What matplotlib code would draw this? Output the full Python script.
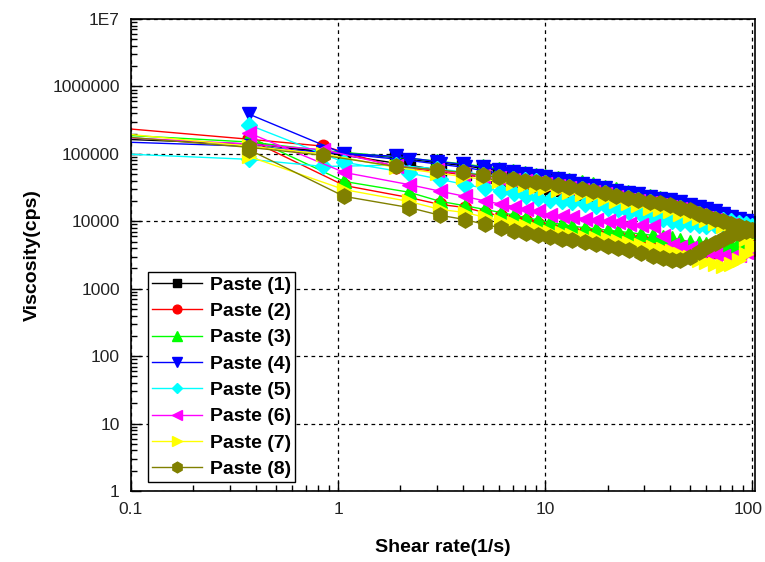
import matplotlib
matplotlib.use("Agg")
import matplotlib.pyplot as plt
import matplotlib.transforms as mtransforms
from matplotlib.ticker import LogLocator, NullFormatter

plt.rcParams['font.family'] = ['Liberation Sans', 'DejaVu Sans']

# shear rates (1/s): low-rate start, ramp up, ramp down, last point
x_start = [0.09, 0.37, 0.85]
x_up = [1.9, 3, 4, 5, 6, 7, 8, 9, 10, 11.5, 13, 15, 17, 19.5, 22, 25, 28, 32,
        36, 40, 45, 50, 55, 60, 66, 72, 79, 86, 93, 100]
x_down = [100, 93, 86, 79, 72, 66, 60, 55, 50, 45, 41, 37, 33, 29, 25.5, 22.5,
          20, 17.5, 15.5, 13.5, 12, 10.5, 9.2, 8.1, 7.1, 6.1, 5.1, 4.1, 3.1, 2.2, 1.07]
x_end = [0.37]

labels = ["Paste (1)", "Paste (2)", "Paste (3)", "Paste (4)",
          "Paste (5)", "Paste (6)", "Paste (7)", "Paste (8)"]

# viscosity (cps)
p1_start = [165000, 140000, 110000]
p1_up = [88000, 74000, 67000, 61000, 56000, 52000, 48500, 46000, 43500, 40500, 38000,
         35000, 32500, 30000, 27500, 25500, 24000, 22000, 20500, 19500, 18000, 16700,
         15500, 14500, 13300, 12200, 11000, 10200, 9500, 9000]
p1_down = [8500, 8800, 9200, 9800, 10500, 11200, 12000, 12800, 13500, 14500, 15300,
           16200, 17200, 18500, 19800, 21000, 22500, 24000, 25500, 27500, 29000, 31000,
           33000, 35500, 38000, 41000, 45000, 50000, 57000, 68000, 95000]
p1_end = [150000]

p2_start = [240000, 165000, 130000]
p2_up = [64000, 55000, 49000, 45000, 42000, 39500, 37500, 35500, 34000, 31500, 29500,
         27500, 26000, 24000, 22000, 20000, 19000, 17500, 16500, 15500, 14200, 13000,
         11800, 10800, 9800, 9000, 8200, 7500, 7000, 6500]
p2_down = [3800, 3600, 3500, 3400, 3400, 3500, 3600, 3800, 4000, 4200, 4500, 4800,
           5100, 5400, 5700, 6000, 6300, 6600, 6900, 7300, 7700, 8100, 9000, 10000,
           11000, 12000, 13500, 16000, 17800, 22500, 34000]
p2_end = [165000]

p3_start = [190000, 150000, 112000]
p3_up = [90000, 78000, 71000, 65000, 60000, 56000, 52000, 49000, 47000, 44000, 41000,
         38000, 35500, 32500, 30000, 27500, 25500, 23500, 22000, 20500, 19000, 17500,
         16000, 14800, 13500, 12200, 11000, 10000, 9200, 8500]
p3_down = [7000, 6000, 5000, 4500, 4400, 4500, 4600, 4800, 5000, 5300, 5600, 5900,
           6200, 6500, 6800, 7100, 7400, 7700, 8000, 8500, 9000, 9600, 10500, 11300,
           12300, 13500, 15000, 17000, 19800, 27000, 39000]
p3_end = [180000]

p4_start = [150000, 130000, 105000]
p4_up = [92000, 77000, 70000, 63000, 58000, 54000, 50000, 47000, 45000, 42000, 39000,
         36000, 33500, 31000, 28500, 26500, 25000, 23000, 21500, 20500, 19000, 17500,
         16300, 15200, 14000, 12800, 11600, 10700, 10000, 9400]
p4_down = [9000, 9500, 10200, 11000, 12000, 13000, 14000, 15000, 16200, 17500, 18500,
           19800, 21000, 22500, 24000, 26000, 27500, 29500, 31500, 34000, 36000, 38500,
           41000, 44000, 47000, 51000, 56000, 63000, 70000, 80000, 100000]
p4_end = [390000]

p5_start = [100000, 83000, 65000]
p5_up = [68000, 60000, 54000, 49000, 46000, 43000, 41000, 39000, 37000, 34500, 32500,
         30000, 28000, 26000, 24000, 22000, 20500, 19000, 18000, 17000, 15500, 14000,
         12800, 11800, 11000, 10500, 10000, 9500, 9000, 8500]
p5_down = [8000, 8500, 9000, 9300, 9200, 8800, 8500, 8700, 9000, 9500, 10000, 10800,
           11700, 12800, 13800, 15000, 16000, 17000, 18000, 19000, 20000, 21000, 22500,
           24000, 26000, 28000, 31000, 35000, 42000, 52000, 75000]
p5_end = [270000]

p6_start = [175000, 140000, 115000]
p6_up = [66000, 57000, 51000, 47000, 44000, 41000, 39000, 37000, 35500, 33000, 31000,
         29000, 27000, 25000, 23000, 21000, 20000, 18500, 17500, 16500, 15000, 13500,
         12300, 11300, 10300, 9500, 8700, 8000, 7500, 7000]
p6_down = [4000, 3500, 3200, 3000, 3100, 3300, 3500, 3800, 4000, 4200, 4500, 6000,
           8400, 8800, 9200, 9600, 10000, 10500, 11000, 11500, 12000, 12500, 14000,
           15000, 16500, 18000, 20000, 23400, 28000, 35000, 53000]
p6_end = [205000]

p7_start = [200000, 130000, 100000]
p7_up = [63000, 52000, 46000, 42000, 39000, 36500, 34500, 32500, 31000, 29000, 27000,
         25000, 23500, 21500, 20000, 18500, 17500, 16000, 15000, 14000, 13000, 12000,
         11200, 10500, 9500, 8500, 7500, 6500, 5500, 4600]
p7_down = [4000, 3300, 2700, 2300, 2200, 2300, 2500, 2700, 3000, 3300, 3600, 3900,
           4200, 4500, 4800, 5100, 5400, 5600, 5900, 6200, 6600, 7000, 7800, 8500,
           9300, 10200, 11500, 13500, 15000, 19700, 29500]
p7_end = [92000]

p8_start = [180000, 125000, 95000]
p8_up = [65000, 58000, 53000, 48000, 45000, 42000, 40000, 38000, 37000, 34000, 32000,
         30000, 28000, 26000, 24000, 22000, 21000, 19500, 18500, 17500, 16000, 14500,
         13000, 12000, 11000, 10000, 9200, 8500, 8000, 7500]
p8_down = [7500, 7200, 6800, 6200, 5500, 4800, 4100, 3500, 3000, 2700, 2700, 2900,
           3100, 3400, 3700, 4000, 4300, 4600, 4900, 5200, 5500, 5800, 6200, 6700,
           7300, 8000, 9000, 10600, 12300, 16000, 23400]
p8_end = [116000]

series = [
    (p1_start, p1_up, p1_down, p1_end),
    (p2_start, p2_up, p2_down, p2_end),
    (p3_start, p3_up, p3_down, p3_end),
    (p4_start, p4_up, p4_down, p4_end),
    (p5_start, p5_up, p5_down, p5_end),
    (p6_start, p6_up, p6_down, p6_end),
    (p7_start, p7_up, p7_down, p7_end),
    (p8_start, p8_up, p8_down, p8_end),
]
colors = ['#000000', '#FF0000', '#00FF00', '#0000FF',
          '#00FFFF', '#FF00FF', '#FFFF00', '#808000']
markers = ['s', 'o', '^', 'v', 'D', '<', '>', 'h']
sizes = [8, 9, 10, 10, 8, 10, 10, 11]

fig = plt.figure(figsize=(7.65, 5.62), dpi=100)
ax = fig.add_axes([0.1712, 0.1263, 0.8157, 0.8399])

x_all = x_start + x_up + x_down + x_end
for (s, u, d, e), c, m, ms, lab in zip(series, colors, markers, sizes, labels):
    ax.plot(x_all, s + u + d + e, color=c, marker=m, ms=ms, mec=c, mfc=c,
            lw=1.0, label=lab)

ax.set_xscale('log')
ax.set_yscale('log')
ax.set_xlim(0.1, 103)
ax.set_ylim(1, 1e7)

ax.set_xticks([0.1, 1, 10, 100])
ax.set_xticklabels(['0.1', '1', '10', '100'])
ax.set_yticks([1, 10, 100, 1000, 10000, 100000, 1000000, 1e7])
ax.set_yticklabels(['1', '10', '100', '1000', '10000', '100000', '1000000', '1E7'])
ax.xaxis.set_minor_locator(LogLocator(base=10, subs=range(2, 10)))
ax.yaxis.set_minor_locator(LogLocator(base=10, subs=range(2, 10)))
ax.xaxis.set_minor_formatter(NullFormatter())
ax.yaxis.set_minor_formatter(NullFormatter())

ax.tick_params(which='both', direction='in', top=False, right=False,
               labelsize=12.5, labelcolor='#222222', pad=8, width=1.0)
ax.tick_params(which='major', length=7)
ax.tick_params(which='minor', length=4)
for sp in ax.spines.values():
    sp.set_linewidth(1.2)

# keep the last x label inside the picture
last = ax.get_xticklabels()[-1]
last.set_transform(last.get_transform() +
                   mtransforms.ScaledTranslation(-4 / 100, 0, fig.dpi_scale_trans))

ax.grid(True, which='major', color='black', ls=(0, (3, 3)), lw=0.9)

ax.set_xlabel('Shear rate(1/s)', fontsize=14, fontweight='bold', labelpad=16)
ax.set_ylabel('Viscosity(cps)', fontsize=14, fontweight='bold', labelpad=8)

leg = ax.legend(loc='lower left', bbox_to_anchor=(0.027, 0.019), borderaxespad=0,
                fancybox=False, framealpha=1, edgecolor='black',
                prop={'weight': 'bold', 'size': 14}, handlelength=2.6,
                handletextpad=0.4, labelspacing=0.45, borderpad=0.2,
                markerscale=0.7, numpoints=1)
leg.get_frame().set_linewidth(1.0)

fig.savefig('out.png', dpi=100)
